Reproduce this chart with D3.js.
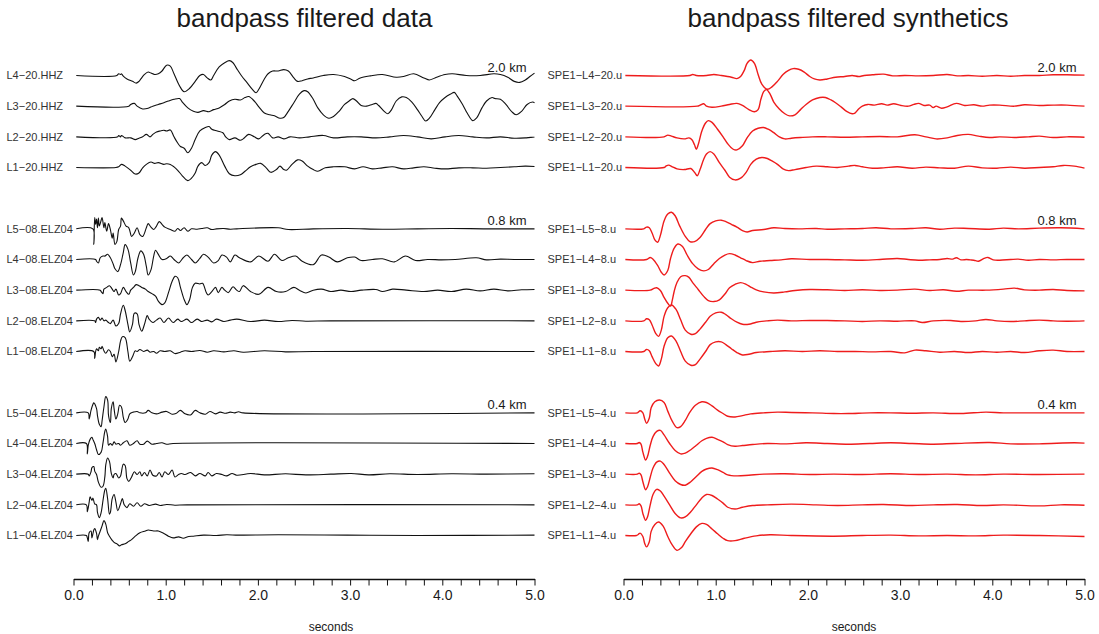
<!DOCTYPE html>
<html lang="en">
<head>
<meta charset="utf-8">
<title>bandpass filtered data and synthetics</title>
<script src="https://d3js.org/d3.v7.min.js"></script>
<style>
  body { margin: 0; background: #fff; }
  svg text { font-family: "Liberation Sans", Arial, Helvetica, sans-serif; fill: #1a1a1a; }
</style>
</head>
<body>
<svg id="chart" width="1099" height="634"></svg>
<script>
// time axis (seconds) and labels
var timeTicks = d3.range(0, 26).map(function(i) { return i / 5; });
var dataNames = ["L4−20.HHZ", "L3−20.HHZ", "L2−20.HHZ", "L1−20.HHZ",
  "L5−08.ELZ04", "L4−08.ELZ04", "L3−08.ELZ04", "L2−08.ELZ04", "L1−08.ELZ04",
  "L5−04.ELZ04", "L4−04.ELZ04", "L3−04.ELZ04", "L2−04.ELZ04", "L1−04.ELZ04"];
var synthNames = ["SPE1−L4−20.u", "SPE1−L3−20.u", "SPE1−L2−20.u", "SPE1−L1−20.u",
  "SPE1−L5−8.u", "SPE1−L4−8.u", "SPE1−L3−8.u", "SPE1−L2−8.u", "SPE1−L1−8.u",
  "SPE1−L5−4.u", "SPE1−L4−4.u", "SPE1−L3−4.u", "SPE1−L2−4.u", "SPE1−L1−4.u"];
var distanceLabels = ["2.0 km", "0.8 km", "0.4 km"];
var distanceSlots = [0, 5, 11];
var traceSlots = [0, 1, 2, 3, 5, 6, 7, 8, 9, 11, 12, 13, 14, 15];

// recorded data, [time s, normalized amplitude]
var d_L4_20 = [[0.03,0],[0.47,0],[0.49,5],[0.51,3],[0.52,5],[0.54,-2],[0.58,-10],[0.64,-17],[0.68,-22],[0.71,-17],[0.73,-10],[0.77,3],[0.81,10],[0.84,7],[0.88,3],[0.92,5],[0.96,13],[1.01,30],[1.05,27],[1.09,5],[1.15,-30],[1.20,-47],[1.26,-37],[1.32,-17],[1.37,0],[1.41,3],[1.45,-7],[1.49,-13],[1.52,0],[1.58,25],[1.64,37],[1.69,43],[1.73,37],[1.77,20],[1.82,0],[1.88,-20],[1.94,-40],[1.98,-50],[2.01,-40],[2.07,-10],[2.11,5],[2.16,13],[2.22,13],[2.28,17],[2.33,13],[2.39,-7],[2.43,-17],[2.48,-15],[2.54,-10],[2.60,-7],[2.71,0],[2.82,3],[2.94,-3],[3.01,-11],[3.05,-15],[3.11,-7],[3.22,-1],[3.35,3],[3.50,-5],[3.58,-3],[3.69,5],[3.80,-7],[3.86,-13],[3.92,-7],[4.03,3],[4.11,5],[4.26,0],[4.41,0],[4.56,5],[4.63,3],[4.71,-5],[4.78,-17],[4.84,-20],[4.90,-13],[4.95,-3],[5.0,7]];
var d_L3_20 = [[0.03,0],[0.60,0],[0.62,5],[0.66,8],[0.69,0],[0.75,-8],[0.81,-6],[0.86,0],[0.92,5],[0.98,10],[1.03,15],[1.09,20],[1.15,22],[1.18,12],[1.24,-5],[1.30,-15],[1.35,-18],[1.41,-13],[1.47,-16],[1.52,-10],[1.58,-5],[1.64,5],[1.69,15],[1.75,20],[1.81,18],[1.86,25],[1.90,28],[1.96,15],[2.01,-2],[2.07,-20],[2.13,-25],[2.18,-28],[2.24,-35],[2.28,-33],[2.33,-15],[2.39,10],[2.45,35],[2.50,45],[2.54,42],[2.60,20],[2.65,-5],[2.71,-25],[2.77,-35],[2.82,-30],[2.88,-15],[2.94,5],[2.99,15],[3.03,22],[3.07,15],[3.12,2],[3.18,0],[3.24,5],[3.28,8],[3.31,2],[3.37,-15],[3.41,-22],[3.45,-10],[3.50,15],[3.56,27],[3.61,25],[3.67,12],[3.73,-10],[3.78,-30],[3.82,-43],[3.86,-35],[3.92,-10],[3.97,10],[4.03,25],[4.09,35],[4.13,40],[4.16,30],[4.22,5],[4.27,-20],[4.33,-42],[4.37,-35],[4.43,-5],[4.48,15],[4.54,25],[4.57,22],[4.63,20],[4.69,5],[4.75,-15],[4.80,-25],[4.86,-15],[4.92,5],[4.98,12],[5.0,10]];
var d_L2_20 = [[0.03,0],[0.48,0],[0.49,4],[0.51,0],[0.52,4],[0.56,-3],[0.62,-3],[0.67,-8],[0.71,-4],[0.75,0],[0.79,7],[0.83,0],[0.86,7],[0.90,14],[0.94,17],[0.98,19],[1.01,17],[1.05,20],[1.09,0],[1.13,-18],[1.16,-28],[1.20,-33],[1.24,-46],[1.28,-33],[1.32,-8],[1.37,17],[1.43,27],[1.47,30],[1.50,22],[1.56,17],[1.62,12],[1.65,0],[1.69,-8],[1.75,-3],[1.81,-10],[1.84,-6],[1.90,7],[1.96,0],[2.01,-6],[2.07,7],[2.11,10],[2.16,-3],[2.22,0],[2.28,-6],[2.35,0],[2.45,-3],[2.56,0],[2.71,4],[2.82,-3],[2.97,0],[3.12,0],[3.28,-3],[3.43,0],[3.58,4],[3.73,0],[3.88,-6],[4.03,0],[4.18,4],[4.33,0],[4.48,-3],[4.63,0],[4.78,-4],[4.90,-3],[5.0,0]];
var d_L1_20 = [[0.03,0],[0.46,0],[0.49,2],[0.52,9],[0.56,4],[0.62,-8],[0.67,-19],[0.71,-16],[0.75,-1],[0.79,9],[0.84,16],[0.88,12],[0.92,14],[0.98,9],[1.01,11],[1.05,9],[1.09,2],[1.13,-8],[1.18,-24],[1.24,-38],[1.28,-31],[1.32,-16],[1.35,4],[1.39,14],[1.43,6],[1.47,14],[1.50,36],[1.54,46],[1.58,36],[1.64,4],[1.69,-18],[1.75,-24],[1.81,-21],[1.86,-11],[1.92,2],[1.98,9],[2.03,12],[2.09,-1],[2.14,-14],[2.20,-6],[2.24,4],[2.28,-6],[2.31,-8],[2.37,9],[2.43,22],[2.48,19],[2.54,4],[2.60,-6],[2.65,-11],[2.73,-1],[2.82,2],[2.94,2],[3.05,-4],[3.14,2],[3.24,-4],[3.35,-1],[3.46,2],[3.58,-4],[3.69,-1],[3.80,2],[3.92,-2],[4.03,-4],[4.18,-1],[4.33,-1],[4.48,-2],[4.63,0],[4.78,2],[4.90,4],[5.0,3]];
var d_L5_08 = [[0.03,0],[0.21,0],[0.22,-45],[0.23,33],[0.24,13],[0.25,28],[0.26,3],[0.27,31],[0.28,8],[0.30,25],[0.31,33],[0.33,3],[0.34,18],[0.36,-7],[0.38,15],[0.40,-2],[0.42,-27],[0.43,-12],[0.45,-45],[0.47,-37],[0.49,-2],[0.51,8],[0.52,31],[0.54,23],[0.57,8],[0.60,3],[0.63,-22],[0.66,-12],[0.69,3],[0.72,-17],[0.75,-22],[0.79,3],[0.81,15],[0.84,5],[0.87,-2],[0.90,8],[0.93,21],[0.96,13],[0.99,5],[1.05,-2],[1.10,-7],[1.13,1],[1.16,-5],[1.20,3],[1.24,-7],[1.28,0],[1.34,-1],[1.39,1],[1.45,3],[1.50,-2],[1.55,0],[1.63,1],[1.70,-1],[1.77,0],[2.22,3],[2.33,-2],[2.60,0],[2.97,1],[3.35,-1],[3.73,0],[4.10,1],[4.48,0],[5.0,0]];
var d_L4_08 = [[0.03,0],[0.24,0],[0.25,-5],[0.27,-10],[0.29,5],[0.32,10],[0.34,10],[0.37,15],[0.40,5],[0.43,-13],[0.45,-27],[0.48,-35],[0.51,-15],[0.54,20],[0.56,43],[0.59,30],[0.62,-10],[0.65,-45],[0.67,-35],[0.70,5],[0.73,25],[0.76,15],[0.79,-20],[0.81,-45],[0.84,-30],[0.87,10],[0.89,27],[0.92,15],[0.96,0],[1.01,3],[1.05,10],[1.09,0],[1.14,-10],[1.19,5],[1.23,13],[1.28,0],[1.32,-10],[1.37,3],[1.41,15],[1.46,7],[1.52,-10],[1.57,-3],[1.61,13],[1.66,7],[1.70,-7],[1.75,13],[1.80,5],[1.92,-7],[2.01,10],[2.11,-5],[2.18,15],[2.26,-3],[2.33,5],[2.41,10],[2.48,-5],[2.60,-15],[2.69,13],[2.77,7],[2.86,-7],[2.97,5],[3.05,7],[3.12,-3],[3.24,0],[3.35,2],[3.48,-7],[3.60,10],[3.71,-3],[3.84,0],[3.99,-1],[4.14,0],[4.37,5],[4.48,-1],[4.63,1],[4.78,0],[5.0,0]];
var d_L3_08 = [[0.03,0],[0.29,0],[0.30,-4],[0.32,-10],[0.33,3],[0.36,8],[0.39,13],[0.42,3],[0.44,-4],[0.46,3],[0.49,-14],[0.51,-10],[0.54,8],[0.57,-4],[0.60,-12],[0.62,0],[0.65,8],[0.68,16],[0.71,13],[0.74,8],[0.78,3],[0.81,-4],[0.85,-10],[0.89,-17],[0.92,-32],[0.96,-42],[0.99,-37],[1.03,-7],[1.07,26],[1.10,40],[1.13,36],[1.16,8],[1.20,-27],[1.23,-42],[1.26,-27],[1.29,8],[1.32,20],[1.37,18],[1.40,20],[1.44,-7],[1.46,-14],[1.50,-4],[1.54,8],[1.57,-7],[1.61,8],[1.64,0],[1.68,-7],[1.73,10],[1.77,0],[1.80,-4],[1.84,13],[1.92,-4],[2.01,-12],[2.11,8],[2.20,-4],[2.30,-4],[2.39,8],[2.45,0],[2.52,-8],[2.60,0],[2.69,3],[2.79,-4],[2.90,0],[3.01,-4],[3.12,0],[3.28,2],[3.35,-4],[3.46,3],[3.61,0],[3.80,-4],[3.95,0],[4.10,-4],[4.26,3],[4.41,-2],[4.56,3],[4.71,-2],[4.86,1],[5.0,2]];
var d_L2_08 = [[0.03,0],[0.23,0],[0.24,-5],[0.25,5],[0.27,10],[0.29,2],[0.31,8],[0.33,0],[0.35,2],[0.38,-5],[0.40,-8],[0.43,2],[0.46,-15],[0.49,-8],[0.51,20],[0.54,45],[0.56,30],[0.59,-10],[0.61,-32],[0.64,-10],[0.66,22],[0.69,20],[0.71,-10],[0.74,-30],[0.77,-10],[0.80,15],[0.82,5],[0.86,-5],[0.90,2],[0.94,8],[0.98,-5],[1.03,8],[1.08,-5],[1.13,5],[1.17,-2],[1.23,5],[1.28,-5],[1.34,5],[1.39,-2],[1.45,2],[1.50,-3],[1.55,5],[1.63,-2],[1.70,2],[1.77,5],[1.92,-2],[2.07,2],[2.22,-2],[2.37,1],[2.52,-1],[2.79,0],[5.0,0]];
var d_L1_08 = [[0.03,0],[0.22,0],[0.23,-20],[0.24,0],[0.25,8],[0.27,2],[0.28,12],[0.30,8],[0.31,15],[0.33,2],[0.35,-5],[0.38,5],[0.40,0],[0.42,-15],[0.44,-8],[0.46,-30],[0.49,0],[0.51,30],[0.53,43],[0.56,40],[0.59,0],[0.61,-28],[0.64,-15],[0.67,2],[0.69,0],[0.72,6],[0.76,0],[0.80,4],[0.83,-2],[0.87,0],[0.90,-5],[0.94,2],[0.99,0],[1.05,2],[1.10,-6],[1.16,-2],[1.21,2],[1.28,0],[1.37,3],[1.45,-2],[1.52,2],[1.63,-1],[1.74,2],[1.84,-2],[2.07,2],[2.30,-1],[2.60,0],[5.0,0]];
var d_L5_04 = [[0.03,0],[0.16,0],[0.17,-18],[0.19,7],[0.21,24],[0.22,29],[0.25,12],[0.26,-8],[0.28,-33],[0.30,-40],[0.31,-23],[0.33,17],[0.35,47],[0.37,37],[0.38,-8],[0.40,-28],[0.41,12],[0.43,32],[0.44,12],[0.46,-18],[0.48,-3],[0.50,22],[0.52,17],[0.54,-13],[0.56,-28],[0.59,-18],[0.61,-3],[0.65,2],[0.69,4],[0.72,0],[0.78,0],[0.81,7],[0.85,0],[0.90,-3],[0.96,2],[1.01,4],[1.07,-4],[1.11,-2],[1.16,7],[1.21,-3],[1.27,-6],[1.32,7],[1.37,0],[1.43,-4],[1.48,4],[1.54,-3],[1.59,2],[1.65,-1],[1.70,2],[1.75,0],[1.79,3],[1.84,0],[5.0,0]];
var d_L4_04 = [[0.03,0],[0.14,0],[0.15,-30],[0.16,-5],[0.18,12],[0.20,18],[0.21,12],[0.23,0],[0.25,-18],[0.27,-32],[0.30,-25],[0.32,2],[0.34,35],[0.35,42],[0.37,20],[0.38,-5],[0.40,0],[0.42,-5],[0.44,5],[0.46,-2],[0.49,0],[0.51,-5],[0.54,2],[0.58,8],[0.61,-5],[0.65,0],[0.69,8],[0.72,-2],[0.76,-2],[0.80,7],[0.85,-2],[0.90,0],[0.96,2],[1.01,-2],[1.08,0],[5.0,0]];
var d_L3_04 = [[0.03,0],[0.16,0],[0.17,-5],[0.19,7],[0.20,19],[0.22,22],[0.23,9],[0.25,-1],[0.27,-23],[0.30,-38],[0.32,-35],[0.34,-8],[0.35,27],[0.37,47],[0.39,37],[0.41,2],[0.43,-11],[0.44,-1],[0.46,2],[0.49,-11],[0.51,-5],[0.54,29],[0.56,25],[0.58,-13],[0.60,-21],[0.63,-8],[0.66,7],[0.69,-1],[0.72,7],[0.74,-5],[0.77,5],[0.80,-5],[0.83,12],[0.86,-3],[0.90,-5],[0.93,5],[0.96,-8],[0.99,7],[1.03,-1],[1.07,12],[1.10,-8],[1.14,-1],[1.17,2],[1.21,-1],[1.27,5],[1.32,-5],[1.37,2],[1.43,-5],[1.46,5],[1.50,-5],[1.55,2],[1.61,-1],[1.66,-5],[1.72,2],[1.77,-3],[1.92,2],[2.07,-2],[2.30,1],[2.52,-2],[2.79,0],[3.01,2],[3.20,-2],[3.43,1],[3.73,-1],[4.10,1],[4.48,0],[5.0,1]];
var d_L2_04 = [[0.03,0],[0.14,0],[0.15,-20],[0.17,8],[0.18,23],[0.20,13],[0.21,20],[0.23,3],[0.25,0],[0.26,-22],[0.28,-37],[0.30,-22],[0.32,13],[0.34,43],[0.35,48],[0.37,18],[0.39,-27],[0.40,-22],[0.42,18],[0.44,30],[0.46,8],[0.48,-17],[0.51,3],[0.53,18],[0.55,0],[0.58,-8],[0.61,3],[0.65,-4],[0.69,6],[0.73,-4],[0.77,3],[0.82,-2],[0.89,2],[0.94,-2],[1.01,1],[1.10,-1],[1.23,0],[5.0,0]];
var d_L1_04 = [[0.03,0],[0.14,0],[0.15,-7],[0.16,-17],[0.17,8],[0.19,13],[0.20,-7],[0.22,16],[0.23,20],[0.25,6],[0.26,-12],[0.27,-2],[0.29,13],[0.31,28],[0.33,43],[0.35,33],[0.37,8],[0.39,-2],[0.42,-14],[0.44,-20],[0.47,-24],[0.50,-30],[0.52,-27],[0.56,-24],[0.60,-17],[0.63,-12],[0.67,-2],[0.72,8],[0.78,13],[0.81,16],[0.87,13],[0.92,13],[0.98,6],[1.03,-2],[1.08,-7],[1.14,-4],[1.19,-8],[1.25,-3],[1.30,-2],[1.41,1],[1.55,0],[1.66,2],[1.79,1],[2.22,2],[2.97,1],[3.73,0],[5.0,1]];

// synthetics, [time s, normalized amplitude]
var s_L4_20 = [[0.02,0],[0.72,0],[0.75,3],[0.79,0],[0.90,0],[0.98,3],[1.06,0],[1.17,-5],[1.23,-9],[1.27,-3],[1.31,15],[1.34,35],[1.38,45],[1.42,35],[1.46,3],[1.50,-25],[1.56,-40],[1.61,-33],[1.67,-17],[1.73,3],[1.79,15],[1.84,20],[1.90,18],[1.96,10],[2.02,-3],[2.07,-10],[2.13,-13],[2.21,-10],[2.30,-5],[2.40,-3],[2.48,0],[2.55,-3],[2.61,0],[2.70,2],[2.82,4],[2.92,-1],[3.05,0],[3.20,-1],[3.36,0],[3.51,3],[3.62,-1],[3.74,0],[3.89,-2],[4.05,0],[4.20,-2],[4.35,0],[4.51,0],[4.66,2],[4.81,2],[5.0,1]];
var s_L3_20 = [[0.02,0],[0.80,0],[0.83,3],[0.87,7],[0.90,0],[0.96,-3],[1.06,0],[1.15,5],[1.23,8],[1.29,2],[1.36,-10],[1.42,-16],[1.46,-10],[1.49,20],[1.52,42],[1.55,48],[1.59,35],[1.63,12],[1.69,-8],[1.75,-22],[1.80,-28],[1.86,-25],[1.92,-10],[1.98,5],[2.05,18],[2.13,25],[2.19,25],[2.25,18],[2.30,10],[2.36,-2],[2.42,-15],[2.48,-22],[2.51,-20],[2.55,-8],[2.59,0],[2.65,5],[2.72,3],[2.80,7],[2.86,3],[2.93,7],[3.01,2],[3.09,0],[3.15,5],[3.20,8],[3.26,2],[3.32,3],[3.36,-4],[3.39,0],[3.45,-6],[3.51,-2],[3.61,8],[3.70,2],[3.80,4],[3.89,0],[3.97,3],[4.08,3],[4.24,0],[4.35,4],[4.51,2],[4.66,3],[4.81,3],[5.0,0]];
var s_L2_20 = [[0.02,0],[0.44,0],[0.48,5],[0.52,2],[0.58,-3],[0.66,-6],[0.71,-3],[0.74,-8],[0.77,-23],[0.79,-36],[0.81,-23],[0.85,17],[0.89,40],[0.92,47],[0.96,42],[1.02,22],[1.08,0],[1.13,-20],[1.19,-36],[1.23,-38],[1.29,-26],[1.34,-3],[1.40,17],[1.46,25],[1.52,27],[1.57,22],[1.63,12],[1.69,0],[1.75,-6],[1.82,-4],[1.92,-2],[2.05,0],[2.21,0],[2.40,-1],[2.59,0],[2.78,1],[2.97,0],[3.16,6],[3.28,0],[3.39,-6],[3.51,-3],[3.62,4],[3.74,7],[3.85,2],[3.97,-2],[4.08,0],[4.24,-2],[4.39,0],[4.51,2],[4.66,-2],[4.81,0],[5.0,-1]];
var s_L1_20 = [[0.02,0],[0.44,0],[0.46,4],[0.49,7],[0.53,2],[0.58,-4],[0.66,-6],[0.73,-3],[0.77,-14],[0.80,-24],[0.83,-6],[0.87,24],[0.90,39],[0.94,46],[0.98,39],[1.04,14],[1.10,-8],[1.15,-28],[1.21,-36],[1.27,-31],[1.33,-14],[1.38,9],[1.44,24],[1.50,29],[1.56,26],[1.61,19],[1.67,9],[1.73,-4],[1.79,-9],[1.86,-6],[1.98,0],[2.09,4],[2.21,2],[2.32,0],[2.44,4],[2.51,6],[2.59,2],[2.70,-2],[2.82,-1],[2.97,2],[3.13,-2],[3.28,1],[3.43,-1],[3.59,-2],[3.74,4],[3.89,-1],[4.05,-2],[4.20,1],[4.35,-2],[4.51,0],[4.66,2],[4.77,6],[4.89,4],[5.0,-2]];
var s_L5_8 = [[0.02,0],[0.22,0],[0.25,5],[0.28,3],[0.31,-12],[0.34,-32],[0.37,-39],[0.40,-19],[0.44,23],[0.48,43],[0.52,48],[0.56,38],[0.61,8],[0.67,-22],[0.72,-37],[0.77,-37],[0.83,-25],[0.89,-2],[0.94,15],[1.00,23],[1.06,25],[1.11,21],[1.17,13],[1.23,5],[1.29,-5],[1.34,-9],[1.40,-5],[1.52,-2],[1.63,3],[1.75,1],[1.90,0],[2.09,1],[2.21,-1],[2.40,0],[2.59,1],[2.74,3],[2.90,0],[3.13,1],[3.28,3],[3.43,-1],[3.59,2],[3.74,1],[3.97,-1],[4.12,2],[4.28,0],[4.51,2],[4.74,3],[5.0,0]];
var s_L4_8 = [[0.02,0],[0.25,0],[0.29,6],[0.32,1],[0.37,-17],[0.41,-37],[0.44,-45],[0.48,-32],[0.51,3],[0.55,33],[0.59,45],[0.64,38],[0.69,13],[0.75,-12],[0.81,-27],[0.87,-33],[0.92,-29],[0.98,-12],[1.04,3],[1.10,13],[1.15,17],[1.21,13],[1.27,5],[1.33,-3],[1.40,-9],[1.48,-5],[1.59,-3],[1.71,-1],[1.82,2],[2.02,0],[2.21,0],[2.40,-1],[2.59,-2],[2.78,0],[2.97,3],[3.09,0],[3.20,-2],[3.32,-1],[3.43,0],[3.51,3],[3.57,1],[3.61,5],[3.66,-1],[3.72,0],[3.76,-1],[3.80,-2],[3.85,-5],[3.91,3],[3.95,6],[4.01,-1],[4.08,-2],[4.20,0],[4.28,1],[4.39,-2],[4.51,0],[4.66,-1],[4.81,0],[5.0,0]];
var s_L3_8 = [[0.02,0],[0.29,0],[0.33,5],[0.36,7],[0.40,-1],[0.44,-21],[0.48,-38],[0.51,-46],[0.53,-28],[0.55,-3],[0.58,22],[0.62,39],[0.67,42],[0.71,37],[0.75,22],[0.81,2],[0.87,-18],[0.92,-30],[0.98,-33],[1.04,-28],[1.10,-11],[1.15,7],[1.21,17],[1.27,22],[1.33,17],[1.38,9],[1.44,1],[1.52,-5],[1.63,-8],[1.75,-5],[1.86,-1],[2.02,2],[2.21,1],[2.40,-1],[2.59,1],[2.78,-1],[2.97,0],[3.16,3],[3.32,-1],[3.47,1],[3.61,-3],[3.74,0],[3.93,0],[4.12,3],[4.24,6],[4.35,1],[4.51,0],[4.66,2],[4.81,-1],[5.0,-2]];
var s_L2_8 = [[0.02,0],[0.22,0],[0.25,6],[0.28,3],[0.31,-12],[0.35,-37],[0.38,-45],[0.41,-27],[0.44,13],[0.48,38],[0.52,46],[0.57,33],[0.62,3],[0.67,-27],[0.73,-39],[0.78,-37],[0.83,-24],[0.89,-4],[0.94,13],[1.00,23],[1.06,25],[1.11,18],[1.17,6],[1.23,-4],[1.29,-10],[1.36,-10],[1.44,-4],[1.56,0],[1.67,2],[1.82,0],[2.02,1],[2.21,1],[2.40,0],[2.59,-2],[2.78,0],[2.97,-1],[3.16,0],[3.24,-5],[3.36,0],[3.55,1],[3.66,-2],[3.82,0],[3.93,4],[4.05,0],[4.20,-2],[4.35,0],[4.51,2],[4.66,0],[4.81,-1],[5.0,0]];
var s_L1_8 = [[0.02,0],[0.22,0],[0.25,6],[0.28,2],[0.31,-15],[0.35,-35],[0.38,-42],[0.41,-22],[0.44,15],[0.48,40],[0.52,45],[0.57,30],[0.62,0],[0.67,-28],[0.73,-40],[0.78,-38],[0.83,-22],[0.89,0],[0.94,20],[1.00,28],[1.06,28],[1.11,20],[1.17,8],[1.23,-3],[1.29,-10],[1.36,-8],[1.44,-3],[1.59,0],[1.75,2],[1.94,0],[2.13,2],[2.32,0],[2.51,0],[2.70,-1],[2.90,0],[3.05,-4],[3.16,4],[3.28,2],[3.43,-2],[3.59,0],[3.74,-3],[3.89,0],[4.05,-2],[4.20,0],[4.35,-3],[4.51,2],[4.66,4],[4.81,0],[5.0,0]];
var s_L5_4 = [[0.02,0],[0.15,0],[0.16,2],[0.18,6],[0.21,0],[0.23,-18],[0.25,-30],[0.28,-15],[0.30,15],[0.34,32],[0.39,37],[0.44,30],[0.48,5],[0.53,-25],[0.58,-43],[0.62,-40],[0.67,-22],[0.72,2],[0.78,22],[0.85,32],[0.90,30],[0.96,20],[1.02,8],[1.08,-2],[1.13,-10],[1.21,-12],[1.29,-8],[1.38,-3],[1.52,0],[1.67,2],[1.82,1],[2.05,0],[2.28,-2],[2.44,-2],[2.67,0],[2.90,0],[3.13,-1],[3.36,0],[3.66,-2],[3.93,2],[4.12,0],[4.51,0],[5.0,0]];
var s_L4_4 = [[0.02,0],[0.15,0],[0.17,3],[0.19,-2],[0.21,-25],[0.24,-48],[0.26,-38],[0.29,-5],[0.32,20],[0.36,35],[0.40,38],[0.44,25],[0.50,0],[0.56,-20],[0.62,-30],[0.67,-28],[0.73,-18],[0.79,-5],[0.85,8],[0.90,15],[0.96,18],[1.02,12],[1.08,5],[1.13,-3],[1.21,-8],[1.29,-6],[1.40,-3],[1.56,0],[1.75,-1],[1.98,2],[2.21,0],[2.44,-2],[2.67,0],[2.90,2],[3.13,0],[3.36,-2],[3.59,0],[3.97,3],[4.20,-1],[4.51,-1],[4.89,2],[5.0,1]];
var s_L3_4 = [[0.02,0],[0.15,0],[0.17,3],[0.19,-2],[0.21,-22],[0.24,-45],[0.26,-37],[0.29,-9],[0.32,18],[0.36,35],[0.40,38],[0.44,28],[0.50,3],[0.56,-19],[0.62,-30],[0.67,-32],[0.73,-22],[0.79,-7],[0.85,8],[0.90,15],[0.96,18],[1.02,13],[1.08,5],[1.13,-2],[1.23,-5],[1.36,-3],[1.52,0],[1.75,1],[2.02,-1],[2.28,0],[2.59,-1],[2.90,1],[3.20,-1],[3.51,0],[3.82,-2],[4.12,0],[4.51,-1],[5.0,0]];
var s_L2_4 = [[0.02,0],[0.15,0],[0.17,3],[0.19,-3],[0.21,-25],[0.24,-45],[0.26,-35],[0.29,0],[0.32,30],[0.36,45],[0.40,40],[0.44,25],[0.50,0],[0.56,-25],[0.62,-38],[0.67,-35],[0.73,-20],[0.79,0],[0.85,20],[0.90,30],[0.96,27],[1.02,17],[1.08,5],[1.13,-7],[1.21,-12],[1.29,-7],[1.40,-2],[1.56,0],[1.82,2],[2.09,0],[2.32,-2],[2.59,0],[2.82,1],[3.13,-2],[3.36,0],[3.62,1],[3.89,-2],[4.12,0],[4.51,-3],[4.74,0],[5.0,-1]];
var s_L1_4 = [[0.02,0],[0.14,0],[0.16,3],[0.18,7],[0.21,-3],[0.23,-23],[0.25,-33],[0.28,-18],[0.30,12],[0.34,32],[0.38,39],[0.43,27],[0.48,-3],[0.53,-28],[0.58,-43],[0.63,-35],[0.67,-18],[0.73,5],[0.79,25],[0.85,35],[0.90,32],[0.96,19],[1.02,5],[1.08,-8],[1.13,-15],[1.21,-15],[1.31,-8],[1.44,-1],[1.59,2],[1.82,0],[2.28,-2],[2.59,0],[2.90,1],[3.20,-1],[3.51,0],[3.82,-1],[4.12,1],[4.51,0],[5.0,-3]];

var dataTraces = [d_L4_20, d_L3_20, d_L2_20, d_L1_20, d_L5_08, d_L4_08, d_L3_08, d_L2_08, d_L1_08,
  d_L5_04, d_L4_04, d_L3_04, d_L2_04, d_L1_04];
var synthTraces = [s_L4_20, s_L3_20, s_L2_20, s_L1_20, s_L5_8, s_L4_8, s_L3_8, s_L2_8, s_L1_8,
  s_L5_4, s_L4_4, s_L3_4, s_L2_4, s_L1_4];

var svg = d3.select("#chart");

// trace slots top to bottom, gaps between distance groups
var slotY = d3.scaleLinear().domain([0, 15]).range([75.5, 535.5]);
var amp = d3.scaleLinear().domain([-100, 100]).range([34.5, -34.5]);
var axisY = 579;

var panels = [
  { title: "bandpass filtered data", names: dataNames, traces: dataTraces,
    x: d3.scaleLinear().domain([0, 5]).range([73.5, 534.5]),
    color: "#111", width: 1.1, labelX: 6.5, titleX: 304.5, secondsX: 331 },
  { title: "bandpass filtered synthetics", names: synthNames, traces: synthTraces,
    x: d3.scaleLinear().domain([0, 5]).range([623.5, 1084.5]),
    color: "#ee1c1c", width: 1.4, labelX: 547.5, titleX: 848, secondsX: 854 }
];

panels.forEach(function(p) {
  var g = svg.append("g");

  g.append("text")
    .attr("x", p.titleX).attr("y", 27)
    .attr("text-anchor", "middle")
    .style("font-size", "26px")
    .text(p.title);

  p.traces.forEach(function(tr, i) {
    var y0 = slotY(traceSlots[i]);
    var line = d3.line()
      .x(function(d) { return p.x(d[0]); })
      .y(function(d) { return y0 + amp(d[1]); })
      .curve(d3.curveCatmullRom.alpha(0.5));

    g.append("path")
      .attr("d", line(tr))
      .attr("fill", "none")
      .attr("stroke", p.color)
      .attr("stroke-width", p.width)
      .attr("stroke-linejoin", "round");

    g.append("text")
      .attr("x", p.labelX).attr("y", y0)
      .attr("dy", "0.35em")
      .style("font-size", "11px")
      .style("fill", "#333")
      .text(p.names[i]);
  });

  distanceLabels.forEach(function(lab, k) {
    g.append("text")
      .attr("x", p.x(5) - 8).attr("y", slotY(distanceSlots[k]) - 3.5)
      .attr("text-anchor", "end")
      .style("font-size", "13px")
      .text(lab);
  });

  var ax = g.append("g")
    .attr("transform", "translate(0," + axisY + ")")
    .call(d3.axisBottom(p.x)
      .tickValues(timeTicks)
      .tickSize(6.5)
      .tickSizeOuter(0)
      .tickPadding(5)
      .tickFormat(function(d) { return Math.abs(d - Math.round(d)) < 1e-9 ? d.toFixed(1) : ""; }));
  ax.attr("font-family", null).attr("font-size", null);
  ax.select(".domain").attr("stroke", "#111").attr("stroke-width", 1.6);
  ax.selectAll(".tick line").attr("stroke", "#111");
  ax.selectAll(".tick text").style("font-size", "14px");

  g.append("text")
    .attr("x", p.secondsX).attr("y", 631)
    .attr("text-anchor", "middle")
    .style("font-size", "12px")
    .text("seconds");
});
</script>
</body>
</html>
